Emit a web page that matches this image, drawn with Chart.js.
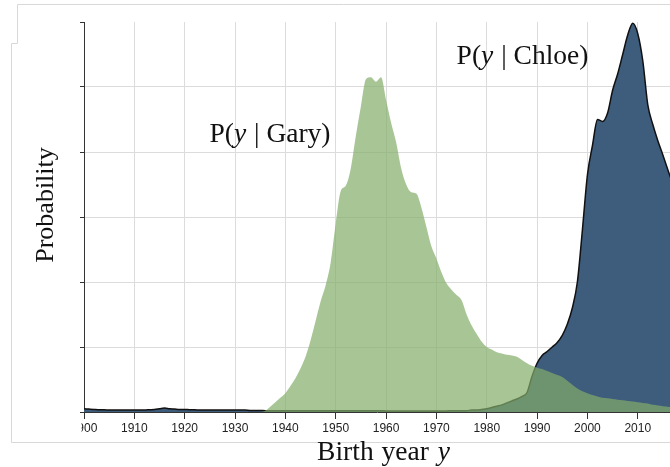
<!DOCTYPE html>
<html><head><meta charset="utf-8">
<script src="https://cdn.jsdelivr.net/npm/chart.js@4.4.1/dist/chart.umd.min.js"></script>
<style>html,body{margin:0;padding:0;background:#fff;}#wrap{width:670px;height:467px;position:relative;overflow:hidden}</style>
</head><body><div id="wrap"><canvas id="c" width="670" height="467"></canvas></div>
<script>
const firstYear = 1900;
const xTickYears = [1900, 1910, 1920, 1930, 1940, 1950, 1960, 1970, 1980, 1990, 2000, 2010];
const yTickValues = [0, 1, 2, 3, 4, 5, 6];

// P(y | Gary), 1900..2017
const garyValues = [
  0,0,0,0,0,0,0,0,0,0,
  0,0,0,0,0,0,0,0,0,0,
  0,0,0,0,0,0,0,0,0,0,
  0,0,0,0,0,0,0.02,0.08,0.15,0.22,
  0.29,0.4,0.52,0.67,0.85,1.1,1.4,1.7,1.95,2.3,
  2.9,3.4,3.48,3.75,4.25,4.7,5.12,5.15,5.08,5.15,
  4.8,4.45,4.15,3.75,3.5,3.38,3.36,3.15,2.85,2.55,
  2.36,2.15,1.98,1.88,1.8,1.72,1.5,1.33,1.2,1.08,
  1.0,0.96,0.92,0.9,0.88,0.87,0.85,0.8,0.75,0.71,
  0.68,0.66,0.63,0.6,0.57,0.54,0.48,0.42,0.36,0.32,
  0.29,0.26,0.24,0.22,0.21,0.2,0.19,0.18,0.17,0.16,
  0.15,0.14,0.13,0.11,0.1,0.09,0.08,0.07
];
// P(y | Chloe), 1900..2017
const chloeValues = [
  0.05,0.045,0.04,0.035,0.035,0.03,0.03,0.03,0.03,0.03,
  0.03,0.03,0.03,0.035,0.04,0.05,0.06,0.05,0.045,0.04,
  0.04,0.035,0.035,0.03,0.03,0.03,0.03,0.03,0.03,0.03,
  0.03,0.03,0.03,0.025,0.025,0.025,0.02,0.02,0.02,0.02,
  0.02,0.02,0.02,0.02,0.02,0.02,0.02,0.02,0.02,0.02,
  0.02,0.02,0.02,0.02,0.02,0.02,0.02,0.02,0.02,0.02,
  0.015,0.015,0.015,0.015,0.015,0.015,0.015,0.015,0.015,0.015,
  0.015,0.015,0.015,0.02,0.02,0.02,0.02,0.03,0.03,0.04,
  0.05,0.07,0.09,0.11,0.14,0.17,0.2,0.24,0.3,0.55,
  0.75,0.87,0.93,1.0,1.07,1.18,1.35,1.6,2.0,2.8,
  3.65,4.1,4.5,4.47,4.6,4.95,5.2,5.5,5.8,5.98,
  5.82,5.4,4.72,4.42,4.17,3.95,3.72,3.5
];
const years = garyValues.map((_, i) => firstYear + i);
const toPoints = vals => vals.map((v, i) => ({ x: years[i], y: v }));

const SERIF = '"Liberation Serif", "Times New Roman", serif';

// parts: {t: text, i: italic, g: extra gap after (px)}
function drawMixed(ctx, parts, cx, baseline, size) {
  const fontN = size + 'px ' + SERIF;
  const fontI = 'italic ' + size + 'px ' + SERIF;
  let total = 0;
  const widths = parts.map(p => {
    ctx.font = p.i ? fontI : fontN;
    const w = ctx.measureText(p.t).width + (p.g || 0);
    total += w; return w;
  });
  let x = cx - total / 2;
  ctx.textAlign = 'left';
  ctx.textBaseline = 'alphabetic';
  parts.forEach((p, k) => { ctx.font = p.i ? fontI : fontN; ctx.fillText(p.t, x, baseline); x += widths[k]; });
}

const decor = {
  id: 'decor',
  afterDraw(chart) {
    const ctx = chart.ctx;
    ctx.save();
    // clip the partially hidden first tick label
    ctx.fillStyle = '#fff';
    ctx.fillRect(18, 414, 63.5, 24);
    // light frame lines
    ctx.strokeStyle = '#d8d8d8';
    ctx.lineWidth = 1;
    ctx.beginPath();
    ctx.moveTo(670, 4.5); ctx.lineTo(17.5, 4.5); ctx.lineTo(17.5, 43.5);
    ctx.lineTo(11.5, 43.5); ctx.lineTo(11.5, 442.5); ctx.lineTo(670, 442.5);
    ctx.stroke();
    ctx.fillStyle = '#111';
    drawMixed(ctx, [{t:'P(', i:false}, {t:'y', i:true, g:1}, {t:' | Gary)', i:false}], 270, 142, 27.5);
    drawMixed(ctx, [{t:'P(', i:false}, {t:'y', i:true, g:1}, {t:' | Chloe)', i:false}], 522.5, 64, 27.5);
    drawMixed(ctx, [{t:'Birth', i:false, g:1}, {t:' year', i:false, g:2}, {t:' ', i:false}, {t:'y', i:true}], 383.5, 460, 27.5);
    ctx.save();
    ctx.translate(53, 205);
    ctx.rotate(-Math.PI / 2);
    drawMixed(ctx, [{t:'Probability', i:false}], 0, 0, 26);
    ctx.restore();
    ctx.restore();
  }
};

new Chart(document.getElementById('c'), {
  type: 'line',
  data: {
    datasets: [
      {
        label: 'Gary',
        data: toPoints(garyValues),
        order: 0,
        fill: 'origin',
        backgroundColor: 'rgba(131,172,105,0.7)',
        borderColor: 'rgba(0,0,0,0)',
        borderWidth: 0,
        pointRadius: 0,
        cubicInterpolationMode: 'monotone'
      },
      {
        label: 'Chloe',
        data: toPoints(chloeValues),
        order: 1,
        fill: 'origin',
        backgroundColor: '#3e5c7c',
        borderColor: '#111',
        borderWidth: 1.5,
        pointRadius: 0,
        cubicInterpolationMode: 'monotone'
      }
    ]
  },
  options: {
    responsive: false,
    animation: false,
    devicePixelRatio: 1,
    layout: { padding: { top: 22, left: 0, right: 0, bottom: 0 } },
    plugins: { legend: { display: false }, tooltip: { enabled: false }, title: { display: false } },
    scales: {
      x: {
        type: 'linear',
        min: 1900,
        max: 2016.4,
        afterBuildTicks: s => { s.ticks = xTickYears.map(v => ({ value: v })); },
        afterFit: s => { s.height = 55; },
        ticks: {
          autoSkip: false, maxRotation: 0, minRotation: 0, padding: 2,
          color: '#222', font: { family: '"Liberation Sans", Arial, sans-serif', size: 12 },
          callback: v => String(v)
        },
        grid: {
          color: c => (c.tick && c.tick.value === 1900) ? 'rgba(0,0,0,0)' : '#dcdcdc',
          tickColor: '#333', tickLength: 7, lineWidth: 1
        },
        border: { color: '#333', width: 1 }
      },
      y: {
        min: 0,
        max: 6,
        afterBuildTicks: s => { s.ticks = yTickValues.map(v => ({ value: v })); },
        afterFit: s => { s.width = 84; },
        ticks: { display: false },
        grid: {
          color: c => (c.tick && (c.tick.value === 0 || c.tick.value === 6)) ? 'rgba(0,0,0,0)' : '#dcdcdc',
          tickColor: '#333', tickLength: 4, lineWidth: 1
        },
        border: { color: '#333', width: 1 }
      }
    }
  },
  plugins: [decor]
});
</script>
</body></html>
